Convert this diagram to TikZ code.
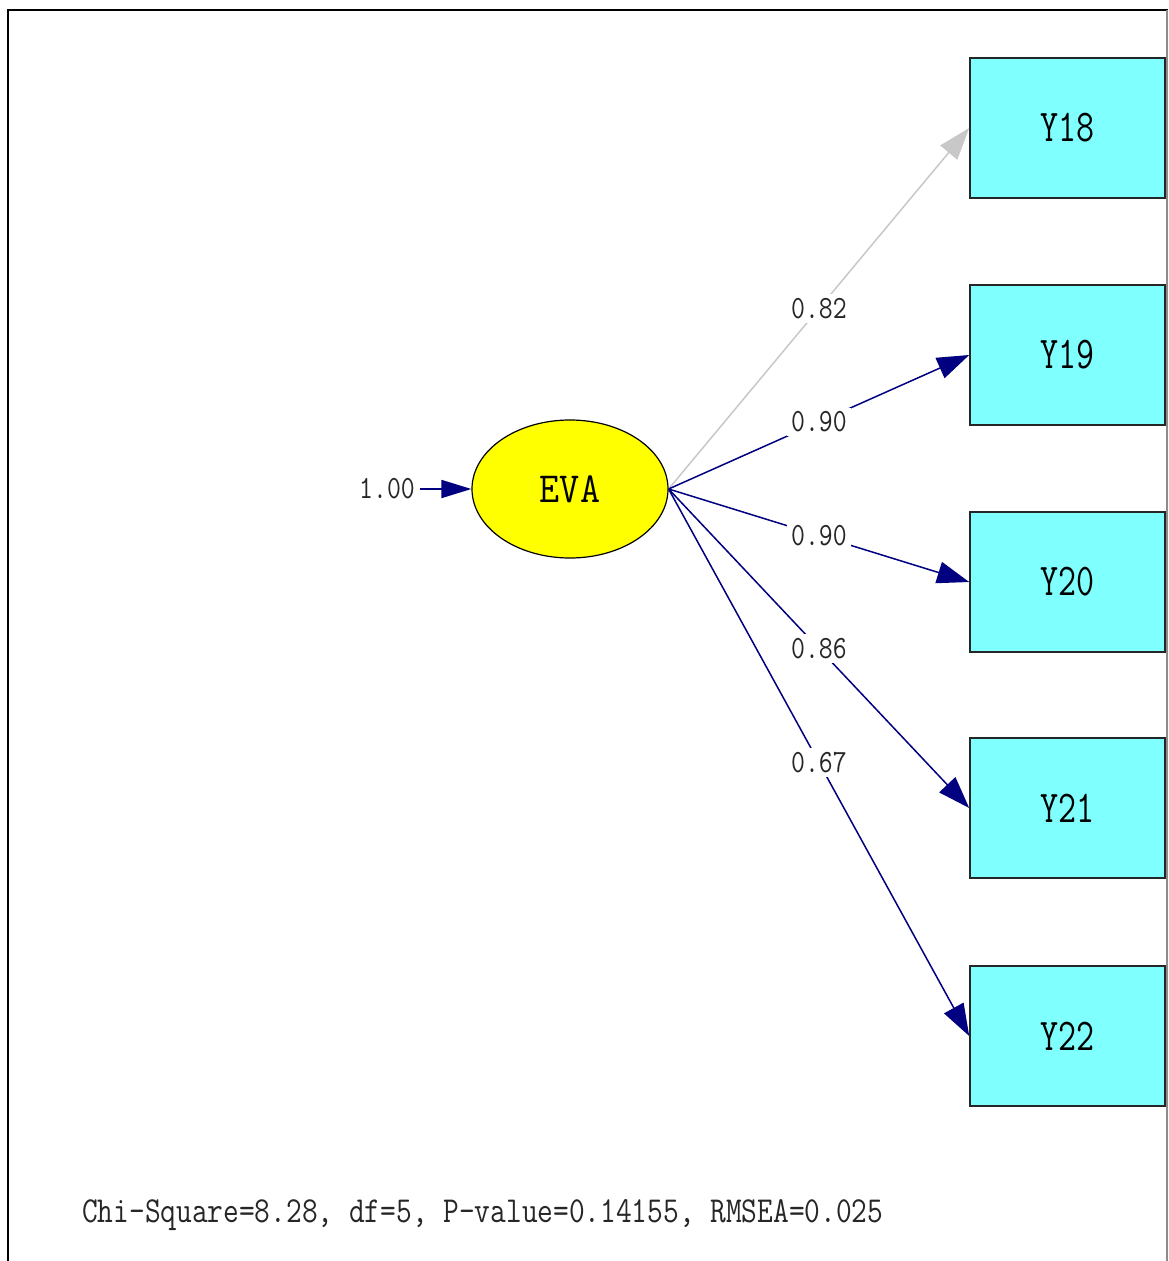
\documentclass[tikz,border=0pt]{standalone}
\usepackage{graphicx}
\usetikzlibrary{shapes.geometric,arrows.meta}
\definecolor{navy}{RGB}{0,0,128}
\definecolor{cyanbox}{RGB}{128,255,255}
\definecolor{grayarrow}{RGB}{200,200,200}
\definecolor{latyellow}{RGB}{255,255,0}
\newcommand\talltxt[2][1.25]{\scalebox{1}[#1]{#2}}
\begin{document}
\begin{tikzpicture}[x=1pt,y=-1pt,
  obs/.style={draw=black!85, line width=1.6pt, fill=cyanbox, minimum width=195pt,
    minimum height=140pt, inner sep=0pt, font=\fontsize{35}{40}\selectfont\ttfamily},
  lat/.style={ellipse, draw=black, line width=1.2pt, fill=latyellow, minimum width=196pt,
    minimum height=138pt, inner sep=0pt, font=\fontsize{39}{44}\selectfont\ttfamily},
  ld/.style={draw=navy, line width=1.5pt, -{Triangle[length=32pt,width=22pt]}},
  ldgray/.style={draw=grayarrow, line width=1.5pt, -{Triangle[length=32pt,width=22pt]}},
  lab/.style={fill=white, inner sep=4pt, text=black!85, font=\fontsize{27}{30}\selectfont\ttfamily},
  frameline/.style={line width=2pt, draw=black}
]
\useasboundingbox (0,0) rectangle (1168,1261);
\fill[white] (0,0) rectangle (1168,1261);
\draw[frameline] (8,1261) -- (8,10) -- (1168,10);
\draw[line width=1.5pt, draw=black!45] (1167,10) -- (1167,1261);

\node[lat] (EVA) at (570,489) {\talltxt[1.1]{EVA}};
\node[obs] (Y18) at (1067.5,128) {\talltxt[1.3]{Y18}};
\node[obs] (Y19) at (1067.5,355) {\talltxt[1.3]{Y19}};
\node[obs] (Y20) at (1067.5,582) {\talltxt[1.3]{Y20}};
\node[obs] (Y21) at (1067.5,808) {\talltxt[1.3]{Y21}};
\node[obs] (Y22) at (1067.5,1036) {\talltxt[1.3]{Y22}};

\node[lab, fill=none, inner sep=0pt] (var) at (387,489) {\talltxt[1.2]{1.00}};
\draw[draw=navy, line width=1.8pt, -{Triangle[length=30pt,width=18pt]}] (var.east) ++(5,0) -- (EVA.west);

\draw[ldgray] (EVA.east) -- node[lab]{\talltxt[1.2]{0.82}} (Y18.west);
\draw[ld] (EVA.east) -- node[lab]{\talltxt[1.2]{0.90}} (Y19.west);
\draw[ld] (EVA.east) -- node[lab]{\talltxt[1.2]{0.90}} (Y20.west);
\draw[ld] (EVA.east) -- node[lab]{\talltxt[1.2]{0.86}} (Y21.west);
\draw[ld] (EVA.east) -- node[lab]{\talltxt[1.2]{0.67}} (Y22.west);

\node[anchor=west, inner sep=0pt, text=black!85, font=\fontsize{30.5}{34}\selectfont\ttfamily] (fit) at (82,1215)
  {\talltxt[1.2]{Chi-Square=8.28, df=5, P-value=0.14155, RMSEA=0.025}};
\end{tikzpicture}
\end{document}
